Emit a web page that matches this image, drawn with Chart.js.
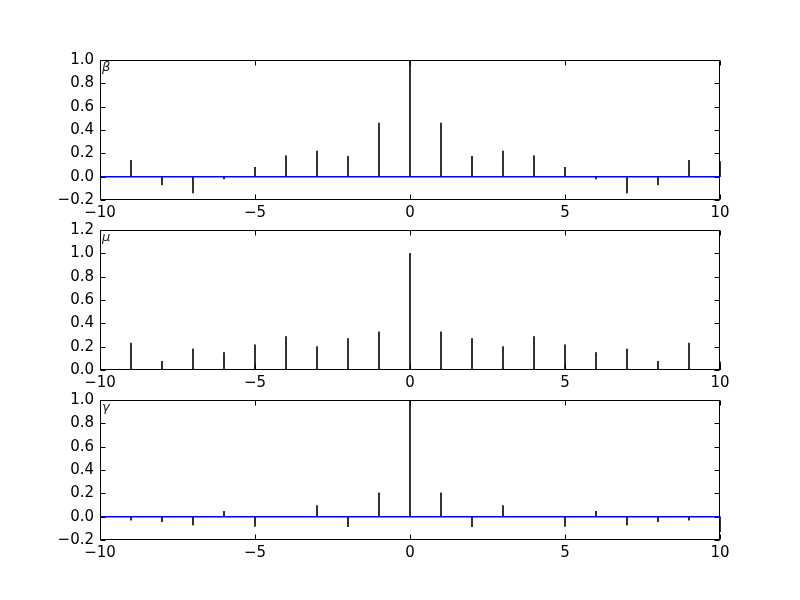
<!DOCTYPE html>
<html><head><meta charset="utf-8">
<script src="https://cdn.jsdelivr.net/npm/chart.js@4.4.1/dist/chart.umd.min.js"></script>
<style>
html,body{margin:0;padding:0;background:#fff;}
#wrap{position:relative;width:800px;height:600px;background:#fff;}
.p{position:absolute;left:0;width:800px;height:180px;}
</style></head><body><div id="wrap">
<div class="p" style="top:50px"><canvas id="c1"></canvas></div>
<div class="p" style="top:220px"><canvas id="c2"></canvas></div>
<div class="p" style="top:390px"><canvas id="c3"></canvas></div>
</div>
<script>
const xs = [-10,-9,-8,-7,-6,-5,-4,-3,-2,-1,0,1,2,3,4,5,6,7,8,9,10];
const betaVals  = [0.13,0.14,-0.07,-0.14,-0.02,0.08,0.18,0.22,0.175,0.46,1.0,0.46,0.175,0.22,0.18,0.08,-0.02,-0.14,-0.07,0.14,0.13];
const muVals    = [0.07,0.23,0.074,0.18,0.15,0.216,0.287,0.2,0.27,0.327,1.0,0.327,0.27,0.2,0.287,0.216,0.15,0.18,0.074,0.23,0.07];
const gammaVals = [-0.13,-0.03,-0.043,-0.072,0.046,-0.083,0,0.095,-0.086,0.204,1.0,0.204,-0.086,0.095,0,-0.083,0.046,-0.072,-0.043,-0.03,-0.13];
const xTicks = [-10,-5,0,5,10];
const betaTicks  = [-0.2,0,0.2,0.4,0.6,0.8,1.0];
const muTicks    = [0,0.2,0.4,0.6,0.8,1.0,1.2];
const gammaTicks = [-0.2,0,0.2,0.4,0.6,0.8,1.0];
const panelLabels = ['\u03B2','\u03BC','\u03B3'];

const FONT = {family:'DejaVu Sans', size:15};
function fmt(v, d){ if (Math.abs(v) < 1e-9) v = 0; return v.toFixed(d).replace('-', '\u2212'); }

const framePlugin = {
  id:'frame',
  afterDraw(chart, args, opts){
    const ctx = chart.ctx, a = chart.chartArea;
    const xs_ = chart.scales.x, ys_ = chart.scales.y;
    ctx.save();
    ctx.strokeStyle = '#000'; ctx.lineWidth = 1;
    const L = Math.round(a.left)+0.5, R = Math.round(a.right)-0.5, T = Math.round(a.top)+0.5, B = Math.round(a.bottom)-0.5;
    ctx.strokeRect(L, T, R-L, B-T);
    ctx.beginPath();
    const tl = 5;
    xs_.ticks.forEach(t => {
      const px = Math.round(xs_.getPixelForValue(t.value)) + 0.5;
      ctx.moveTo(px, B); ctx.lineTo(px, B - tl);
      ctx.moveTo(px, T); ctx.lineTo(px, T + tl);
    });
    ys_.ticks.forEach(t => {
      const py = Math.round(ys_.getPixelForValue(t.value)) + 0.5;
      ctx.moveTo(L, py); ctx.lineTo(L + tl, py);
      ctx.moveTo(R, py); ctx.lineTo(R - tl, py);
    });
    ctx.stroke();
    ctx.fillStyle = '#222';
    ctx.font = 'italic 13px "DejaVu Sans"';
    ctx.textBaseline = 'top'; ctx.textAlign = 'left';
    ctx.fillText(opts.label, a.left + 2, a.top + 1);
    ctx.restore();
  }
};

function makeChart(id, vals, yTicks, label){
  const pts = xs.map((x,i) => ({x:x, y:vals[i]}));
  const zero = xs.map(x => ({x:x, y:0}));
  new Chart(document.getElementById(id), {
    type:'scatter',
    data:{datasets:[
      {type:'line', data:zero, borderColor:'rgb(0,0,255)', backgroundColor:'rgb(0,0,255)', borderWidth:1.5, pointRadius:0, showLine:true, fill:false, order:0},
      {type:'bar', data:pts, backgroundColor:'#333', borderColor:'#333', borderWidth:0, barThickness:1.4, grouped:false, order:1,
       clip:{left:0, right:1, top:0, bottom:0}}
    ]},
    options:{
      responsive:true, maintainAspectRatio:false, animation:false, devicePixelRatio:1,
      layout:{padding:{top:10,right:80,left:0,bottom:0}},
      plugins:{legend:{display:false}, tooltip:{enabled:false}, frame:{label:label}},
      scales:{
        x:{type:'linear', min:xTicks[0], max:xTicks[xTicks.length-1], offset:false,
           grid:{display:false, drawTicks:false}, border:{display:false},
           afterBuildTicks: s => { s.ticks = xTicks.map(v => ({value:v})); },
           afterFit: s => { s.height = 30; s.paddingLeft = 0; s.paddingRight = 0; },
           ticks:{font:FONT, color:'#000', padding:4, maxRotation:0, autoSkip:false, callback:v => fmt(v,0)}},
        y:{type:'linear', min:yTicks[0], max:yTicks[yTicks.length-1],
           grid:{display:false, drawTicks:false}, border:{display:false},
           afterBuildTicks: s => { s.ticks = yTicks.map(v => ({value:v})); },
           afterFit: s => { s.width = 100; s.paddingTop = 0; s.paddingBottom = 0; },
           ticks:{font:FONT, color:'#000', padding:6, autoSkip:false, callback:v => fmt(v,1)}}
      }
    },
    plugins:[framePlugin]
  });
}
makeChart('c1', betaVals, betaTicks, panelLabels[0]);
makeChart('c2', muVals, muTicks, panelLabels[1]);
makeChart('c3', gammaVals, gammaTicks, panelLabels[2]);
</script></body></html>
